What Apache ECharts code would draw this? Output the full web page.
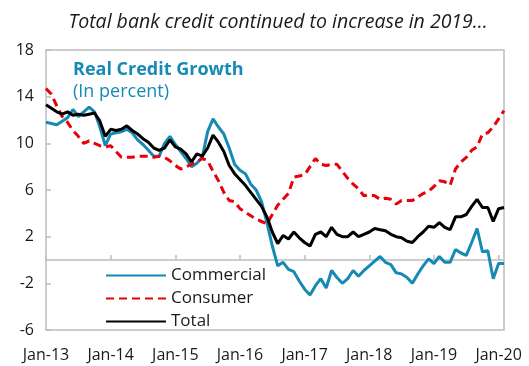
<!DOCTYPE html>
<html>
<head>
<meta charset="utf-8">
<script src="https://cdn.jsdelivr.net/npm/echarts@6/dist/echarts.min.js"></script>
<style>
  html, body { margin: 0; padding: 0; background: #fff; }
  #chart_box { width: 529px; height: 366px; }
</style>
</head>
<body>
<div id="chart_box"></div>
<script>
// months Jan-13 .. Feb-20
var monthNames = ["Jan", "Feb", "Mar", "Apr", "May", "Jun", "Jul", "Aug", "Sep", "Oct", "Nov", "Dec"];
var years = ["13", "14", "15", "16", "17", "18", "19", "20"];
var categories = [];
years.forEach(function (y) {
  monthNames.forEach(function (m) {
    categories.push(m + "-" + y);
  });
});
categories = categories.slice(0, 86);

var yTicks = { min: -6, max: 18, step: 4 };

var commercial = [
  11.8, 11.7, 11.6, 11.9, 12.2, 12.9, 12.3, 12.7, 13.1, 12.7, 11.4, 9.8,
  10.8, 10.9, 11.0, 11.2, 10.9, 10.3, 9.9, 9.4, 8.9, 8.9, 10.0, 10.6,
  9.9, 9.3, 8.7, 8.0, 8.3, 8.8, 11.0, 12.1, 11.4, 10.8, 9.6, 8.2,
  7.7, 7.4, 6.5, 6.0, 5.0, 3.2, 1.2, -0.5, -0.2, -0.8, -1.0, -1.8,
  -2.5, -3.0, -2.2, -1.6, -2.4, -0.9, -1.5, -2.0, -1.6, -0.9, -1.4, -0.9,
  -0.5, -0.1, 0.3, -0.2, -0.4, -1.1, -1.2, -1.5, -2.0, -1.2, -0.5, 0.1,
  -0.3, 0.3, -0.2, -0.2, 0.9, 0.6, 0.4, 1.5, 2.7, 0.7, 0.8, -1.6,
  -0.3, -0.3
];

var consumer = [
  14.7, 14.2, 13.2, 12.3, 11.8, 11.1, 10.6, 10.0, 10.2, 10.0, 9.8, 9.7,
  9.8, 9.3, 8.8, 8.8, 8.8, 8.9, 8.9, 8.9, 8.8, 8.9, 8.8, 8.5,
  8.1, 7.8, 8.0, 8.2, 8.4, 8.7, 8.5, 7.6, 6.8, 5.8, 5.1, 5.0,
  4.4, 4.1, 3.8, 3.5, 3.3, 3.1, 3.9, 4.7, 5.2, 5.7, 7.1, 7.2,
  7.3, 8.0, 8.7, 8.2, 8.1, 8.2, 8.2, 7.6, 7.0, 6.5, 6.1, 5.5,
  5.6, 5.5, 5.2, 5.3, 5.2, 4.8, 5.1, 5.1, 5.1, 5.4, 5.7, 5.9,
  6.3, 6.8, 6.7, 6.4, 7.8, 8.4, 8.8, 9.4, 9.7, 10.8, 10.9, 11.4,
  12.1, 12.8
];

var total = [
  13.3, 13.0, 12.7, 12.5, 12.7, 12.4, 12.5, 12.4, 12.5, 12.6, 11.9, 10.6,
  11.2, 11.1, 11.2, 11.5, 11.1, 10.8, 10.4, 10.1, 9.6, 9.4, 9.6, 10.3,
  9.7, 9.5, 9.1, 8.4, 9.1, 8.9, 9.6, 10.7, 10.1, 9.3, 8.1, 7.4,
  6.9, 6.4, 5.8, 5.2, 4.6, 3.7, 2.4, 1.4, 2.1, 1.8, 2.4, 1.9,
  1.5, 1.2, 2.2, 2.4, 2.0, 2.8, 2.2, 2.0, 2.0, 2.4, 2.0, 2.2,
  2.4, 2.7, 2.6, 2.5, 2.2, 2.0, 1.9, 1.6, 1.5, 2.0, 2.4, 2.9,
  2.8, 3.2, 2.8, 2.6, 3.7, 3.7, 3.9, 4.6, 5.2, 4.5, 4.5, 3.3,
  4.4, 4.5
];

var teal = "#168ab5";
var red = "#e8000b";
var font = "'Open Sans', 'Noto Sans', sans-serif";

var myecharts = echarts.init(document.getElementById("chart_box"));
var option = {
  animation: false,
  backgroundColor: "#fff",
  title: [
    {
      text: "Total bank credit continued to increase in 2019...",
      left: 273,
      textAlign: "center",
      top: 7,
      textStyle: { fontFamily: font, fontStyle: "italic", fontWeight: "normal", fontSize: 19.5, color: "#1a1a1a" }
    },
    {
      text: "Real Credit Growth",
      left: 68,
      top: 56,
      textStyle: { fontFamily: font, fontWeight: "bold", fontSize: 18, color: teal }
    },
    {
      text: "(In percent)",
      left: 68,
      top: 78,
      textStyle: { fontFamily: font, fontWeight: "normal", fontSize: 18, color: teal }
    }
  ],
  legend: {
    orient: "vertical",
    left: 100,
    top: 262,
    itemWidth: 60,
    itemHeight: 10,
    itemGap: 6,
    itemStyle: { opacity: 0 },
    data: ["Commercial", "Consumer", "Total"],
    textStyle: { fontFamily: font, fontSize: 17, color: "#1a1a1a" }
  },
  grid: {
    left: 46,
    right: 25,
    top: 50,
    bottom: 36,
    show: true,
    borderColor: "#bdbdbd",
    borderWidth: 1.5
  },
  xAxis: [
    {
      type: "category",
      data: categories,
      boundaryGap: false,
      position: "bottom",
      axisLine: { show: false, onZero: false },
      axisTick: { show: false },
      axisLabel: {
        interval: 11,
        margin: 17,
        fontFamily: font,
        fontSize: 16,
        color: "#1a1a1a"
      }
    },
    {
      type: "category",
      data: categories,
      boundaryGap: false,
      position: "top",
      axisLine: { show: true, onZero: true, lineStyle: { color: "#bdbdbd", width: 1.5 } },
      axisTick: { show: true, interval: 11, length: 5, inside: false, lineStyle: { color: "#bdbdbd", width: 1.5 } },
      axisLabel: { show: false }
    }
  ],
  yAxis: {
    type: "value",
    min: yTicks.min,
    max: yTicks.max,
    interval: yTicks.step,
    axisLine: { show: false },
    axisTick: { show: true, inside: true, length: 5, lineStyle: { color: "#bdbdbd", width: 1.5 } },
    splitLine: { show: false },
    axisLabel: { margin: 12, fontFamily: font, fontSize: 16, color: "#1a1a1a" }
  },
  series: [
    {
      name: "Commercial",
      type: "line",
      data: commercial,
      symbol: "none",
      lineStyle: { color: teal, width: 3 },
      itemStyle: { color: teal }
    },
    {
      name: "Consumer",
      type: "line",
      data: consumer,
      symbol: "none",
      lineStyle: { color: red, width: 3, type: [8, 5] },
      itemStyle: { color: red }
    },
    {
      name: "Total",
      type: "line",
      data: total,
      symbol: "none",
      z: 3,
      lineStyle: { color: "#000", width: 3 },
      itemStyle: { color: "#000" }
    }
  ]
};
myecharts.setOption(option);
</script>
</body>
</html>
